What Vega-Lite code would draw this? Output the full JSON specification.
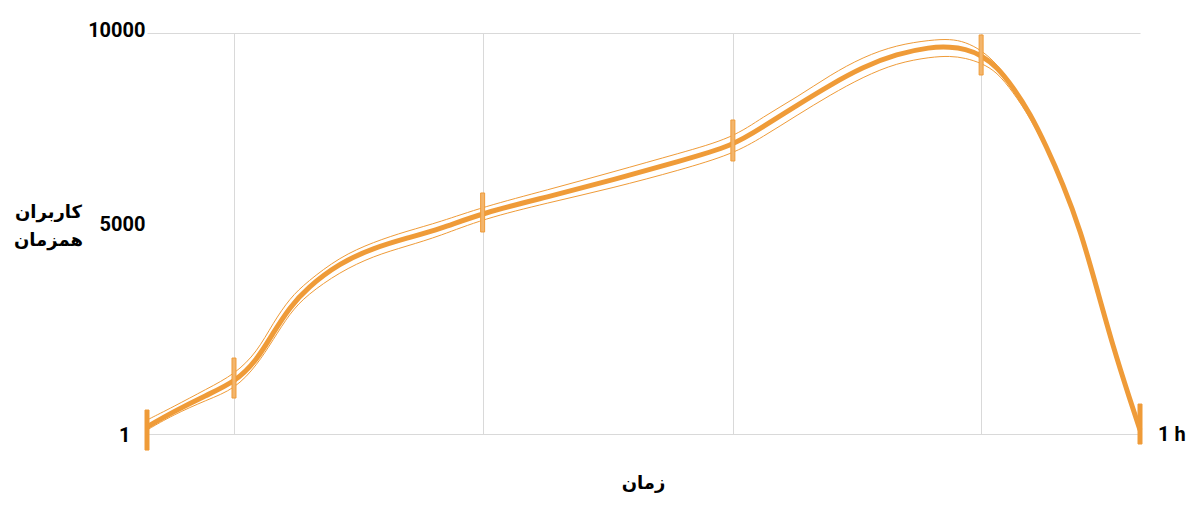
{
  "$schema": "https://vega.github.io/schema/vega-lite/v6.json",
  "width": 993,
  "height": 401,
  "autosize": {"type": "none"},
  "padding": {"left": 147, "top": 33, "right": 60, "bottom": 75},
  "background": "#ffffff",
  "config": {"view": {"stroke": null}},
  "datasets": {
    "curve": [
      {"t": 0, "v": 180, "hi": 350, "lo": 100},
      {"t": 2.6, "v": 549, "hi": 673, "lo": 474},
      {"t": 6.0, "v": 973, "hi": 1122, "lo": 848},
      {"t": 8.86, "v": 1297, "hi": 1496, "lo": 1122},
      {"t": 11.08, "v": 1846, "hi": 2045, "lo": 1721},
      {"t": 12.69, "v": 2519, "hi": 2768, "lo": 2344},
      {"t": 14.4, "v": 3167, "hi": 3392, "lo": 3018},
      {"t": 16.1, "v": 3641, "hi": 3791, "lo": 3467},
      {"t": 19.4, "v": 4265, "hi": 4414, "lo": 4040},
      {"t": 22.8, "v": 4639, "hi": 4788, "lo": 4439},
      {"t": 26.2, "v": 4888, "hi": 5063, "lo": 4689},
      {"t": 29.5, "v": 5113, "hi": 5287, "lo": 4938},
      {"t": 33.8, "v": 5512, "hi": 5661, "lo": 5362},
      {"t": 40.3, "v": 5911, "hi": 6085, "lo": 5761},
      {"t": 46.9, "v": 6335, "hi": 6534, "lo": 6135},
      {"t": 53.7, "v": 6809, "hi": 7008, "lo": 6584},
      {"t": 59.0, "v": 7183, "hi": 7382, "lo": 6983},
      {"t": 62.0, "v": 7657, "hi": 7906, "lo": 7407},
      {"t": 65.5, "v": 8205, "hi": 8405, "lo": 7956},
      {"t": 68.8, "v": 8704, "hi": 8953, "lo": 8455},
      {"t": 72.1, "v": 9153, "hi": 9402, "lo": 8904},
      {"t": 75.5, "v": 9477, "hi": 9702, "lo": 9253},
      {"t": 78.9, "v": 9652, "hi": 9826, "lo": 9402},
      {"t": 80.9, "v": 9652, "hi": 9851, "lo": 9427},
      {"t": 82.4, "v": 9602, "hi": 9776, "lo": 9377},
      {"t": 84.0, "v": 9452, "hi": 9577, "lo": 9253},
      {"t": 85.6, "v": 9153, "hi": 9228, "lo": 9028},
      {"t": 87.2, "v": 8654, "hi": 8704, "lo": 8529},
      {"t": 88.9, "v": 8006, "hi": 8056, "lo": 7906},
      {"t": 90.6, "v": 7158, "hi": 7208, "lo": 7083},
      {"t": 92.2, "v": 6260, "hi": 6310, "lo": 6185},
      {"t": 94.0, "v": 5088, "hi": 5113, "lo": 5038},
      {"t": 95.7, "v": 3591, "hi": 3616, "lo": 3541},
      {"t": 97.3, "v": 2170, "hi": 2195, "lo": 2120},
      {"t": 99.0, "v": 848, "hi": 870, "lo": 820},
      {"t": 100, "v": 100, "hi": 110, "lo": 90}
    ],
    "bars": [
      {"t": 0, "low": -399, "high": 599, "end": true},
      {"t": 8.76, "low": 898, "high": 1895, "end": false},
      {"t": 33.8, "low": 5038, "high": 6011, "end": false},
      {"t": 59.0, "low": 6809, "high": 7831, "end": false},
      {"t": 84.0, "low": 8953, "high": 9951, "end": false},
      {"t": 100, "low": -249, "high": 748, "end": true}
    ],
    "endlabel": [
      {"t": 100, "v": 1, "label": "1 h"}
    ]
  },
  "layer": [
    {
      "data": {"name": "curve"},
      "mark": {"type": "line", "interpolate": "basis", "stroke": "#ef9b38", "strokeWidth": 1},
      "encoding": {
        "x": {
          "field": "t", "type": "quantitative",
          "scale": {"domain": [0, 100], "nice": false, "zero": false, "padding": 0},
          "axis": {
            "values": [8.76, 33.8, 59.0, 84.0],
            "labels": false, "ticks": false, "domain": false,
            "grid": true, "gridColor": "#d9d9d9", "gridWidth": 1,
            "title": "زمان",
            "titleFont": "DejaVu Sans", "titleFontSize": 18, "titleFontWeight": "bold", "titleColor": "#000000",
            "titleX": 496, "titleY": 49, "titleBaseline": "middle", "titleAnchor": null, "titleAlign": "center"
          }
        },
        "y": {
          "field": "hi", "type": "quantitative",
          "scale": {"domain": [1, 10000], "nice": false, "zero": false, "padding": 0},
          "axis": {
            "values": [1, 5000, 10000],
            "format": "d",
            "domain": false, "ticks": false,
            "grid": true, "gridColor": "#d9d9d9", "gridWidth": 1,
            "gridOpacity": {"condition": {"test": "datum.value == 5000", "value": 0}, "value": 1},
            "labelFont": "Roboto", "labelFontSize": 20, "labelFontWeight": "bold", "labelColor": "#000000",
            "labelBaseline": "middle", "labelAlign": "right",
            "labelPadding": {"condition": {"test": "datum.value == 1", "value": 17}, "value": 2},
            "labelOffset": {"condition": [{"test": "datum.value == 5000", "value": -9}, {"test": "datum.value == 10000", "value": -3}], "value": 1},
            "title": ["کاربران", "همزمان"],
            "titleFont": "DejaVu Sans", "titleFontSize": 18, "titleFontWeight": "bold", "titleColor": "#000000",
            "titleAngle": 0, "titleAlign": "center", "titleBaseline": "middle",
            "titleX": -99, "titleY": 179, "titleLineHeight": 28, "titleAnchor": null
          }
        }
      }
    },
    {
      "data": {"name": "curve"},
      "mark": {"type": "line", "interpolate": "basis", "stroke": "#ef9b38", "strokeWidth": 1},
      "encoding": {
        "x": {"field": "t", "type": "quantitative"},
        "y": {"field": "lo", "type": "quantitative"}
      }
    },
    {
      "data": {"name": "curve"},
      "mark": {"type": "line", "interpolate": "basis", "stroke": "#ef9b38", "strokeWidth": 5},
      "encoding": {
        "x": {"field": "t", "type": "quantitative"},
        "y": {"field": "v", "type": "quantitative"}
      }
    },
    {
      "data": {"name": "bars"},
      "mark": {"type": "bar", "width": 4, "stroke": "#ef9b38", "strokeWidth": 1},
      "encoding": {
        "x": {"field": "t", "type": "quantitative"},
        "y": {"field": "low", "type": "quantitative"},
        "y2": {"field": "high"},
        "fill": {"condition": {"test": "datum.end", "value": "#ef9b38"}, "value": "#f3b56c"}
      }
    },
    {
      "data": {"name": "endlabel"},
      "mark": {"type": "text", "align": "left", "baseline": "middle", "dx": 18, "dy": 1, "font": "Roboto", "fontSize": 20, "fontWeight": "bold", "color": "#000000"},
      "encoding": {
        "x": {"field": "t", "type": "quantitative"},
        "y": {"field": "v", "type": "quantitative"},
        "text": {"field": "label"}
      }
    }
  ]
}
